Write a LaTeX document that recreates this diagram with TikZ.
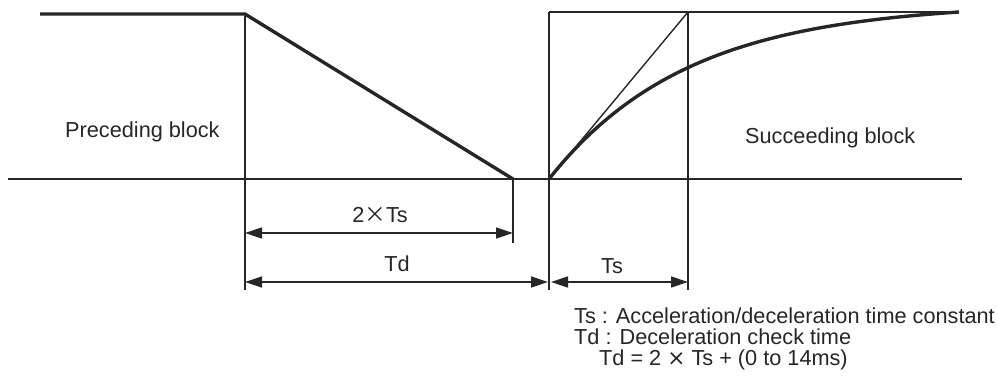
\documentclass[tikz,border=0pt]{standalone}
\usepackage{fontspec}
\setmainfont{Liberation Sans}
\newfontfamily\cjk{Noto Sans CJK JP}
\newfontfamily\dejavu{DejaVu Sans}
\usetikzlibrary{arrows.meta}
\newcommand{\bigx}{{\cjk ×}}
\newcommand{\notex}{{\dejavu ×}}
\begin{document}
\begin{tikzpicture}[x=1pt,y=-1pt,
  thin line/.style={line width=1.4pt,draw=black!85},
  thick line/.style={line width=3.4pt,draw=black!85},
  dim/.style={line width=1.4pt,draw=black!85,{Triangle[length=17pt,width=11pt]}-{Triangle[length=17pt,width=11pt]}},
  lbl/.style={inner sep=0pt,font=\fontsize{21.7}{21}\selectfont,text=black!85}]
\useasboundingbox (0,0) rectangle (997,391);
% coordinates
\coordinate (p0) at (40,14);
\coordinate (p1) at (245,14);
\coordinate (p2) at (513,179);
\coordinate (b0) at (8,179);
\coordinate (b1) at (962,179);
\coordinate (s0) at (549,179);
\coordinate (bt0) at (549,12);
\coordinate (bt1) at (688,12);
\coordinate (top1) at (959,12);
% baseline
\draw[thin line] (b0) -- (b1);
% preceding block
\draw[thick line,line join=miter] (p0) -- (p1) -- (p2);
% box and diagonal
\draw[thin line] (bt0) -- (top1);
\draw[thin line] (s0) -- (bt1);
% extension lines
\coordinate (v1t) at (245,16);
\coordinate (v1b) at (245,290);
\coordinate (v2t) at (513,179);
\coordinate (v2b) at (513,243);
\coordinate (v3b) at (549,290);
\coordinate (v4b) at (688,290);
\draw[thin line] (v1t) -- (v1b);
\draw[thin line] (v2t) -- (v2b);
\draw[thin line] (bt0) -- (v3b);
\draw[thin line] (bt1) -- (v4b);
% exponential curve
\draw[thick line] plot[domain=0:410,samples=80,smooth] ({549+\x},{179-167*(1-exp(-\x/139))/0.9476});
% dimension arrows
\coordinate (a1l) at (245,233); \coordinate (a1r) at (513,233);
\coordinate (a2l) at (245,282); \coordinate (a2r) at (548,282);
\coordinate (a3l) at (551,282); \coordinate (a3r) at (688,282);
\draw[dim] (a1l) -- (a1r);
\draw[dim] (a2l) -- (a2r);
\draw[dim] (a3l) -- (a3r);
% labels
\node[lbl] (l2ts) at (380,215) {2\bigx Ts};
\node[lbl] (ltd) at (397,264) {Td};
\node[lbl] (lts) at (612,266) {Ts};
\node[lbl,anchor=west] (pre) at (65,132) {Preceding block};
\node[lbl,anchor=west] (suc) at (745,138) {Succeeding block};
\node[lbl,anchor=north west,align=left] (notes) at (574,308)
  {Ts : Acceleration/deceleration time constant\\
   Td : Deceleration check time\\
   \hspace{25pt}Td = 2 \notex\ Ts + (0 to 14ms)};
\end{tikzpicture}
\end{document}
